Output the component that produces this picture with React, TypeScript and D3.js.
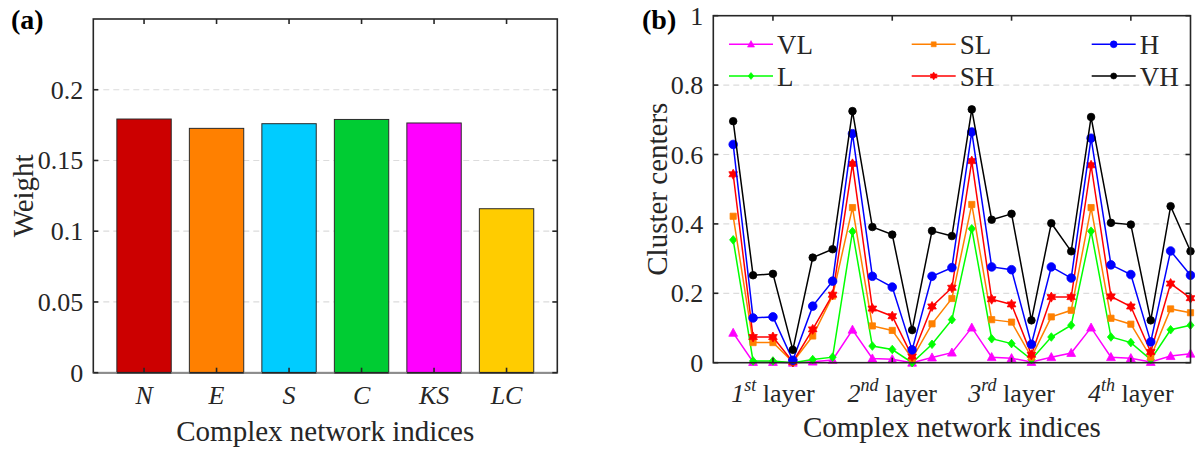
import React from 'react';
import * as d3 from 'd3';

// ---------- Data ----------
const barCategories = ['N', 'E', 'S', 'C', 'KS', 'LC'];
const barWeights = [0.1793, 0.1727, 0.176, 0.179, 0.1765, 0.1159];
const weightTicks = [0, 0.05, 0.1, 0.15, 0.2];
const weightTickLabels = ['0', '0.05', '0.1', '0.15', '0.2'];

const layerTickPositions = [3, 9, 15, 21];
const layerNumbers = ['1', '2', '3', '4'];
const layerSuffixes = ['st', 'nd', 'rd', 'th'];
const clusterTicks = [0, 0.2, 0.4, 0.6, 0.8, 1];
const clusterTickLabels = ['0', '0.2', '0.4', '0.6', '0.8', '1'];

const seriesNames = ['VL', 'L', 'SL', 'SH', 'H', 'VH'];
const VL = [0.086, 0.002, 0.002, 0.0, 0.003, 0.008, 0.095, 0.012, 0.010, 0.0, 0.015, 0.029, 0.101, 0.016, 0.013, 0.002, 0.016, 0.028, 0.101, 0.016, 0.013, 0.002, 0.019, 0.026];
const L = [0.354, 0.005, 0.005, 0.0, 0.009, 0.016, 0.378, 0.048, 0.038, 0.0, 0.053, 0.124, 0.386, 0.069, 0.055, 0.009, 0.074, 0.108, 0.379, 0.074, 0.058, 0.009, 0.095, 0.108];
const SL = [0.422, 0.058, 0.058, 0.002, 0.077, 0.192, 0.447, 0.106, 0.093, 0.012, 0.112, 0.185, 0.456, 0.124, 0.117, 0.016, 0.132, 0.151, 0.447, 0.128, 0.111, 0.016, 0.155, 0.144];
const SH = [0.543, 0.074, 0.074, 0.002, 0.096, 0.196, 0.573, 0.156, 0.134, 0.018, 0.162, 0.216, 0.581, 0.183, 0.168, 0.023, 0.189, 0.189, 0.569, 0.191, 0.162, 0.031, 0.228, 0.186];
const Hs = [0.629, 0.129, 0.132, 0.007, 0.163, 0.235, 0.660, 0.249, 0.218, 0.037, 0.249, 0.274, 0.665, 0.276, 0.268, 0.053, 0.276, 0.244, 0.647, 0.282, 0.254, 0.060, 0.322, 0.252];
const VH = [0.696, 0.252, 0.256, 0.037, 0.303, 0.327, 0.725, 0.391, 0.369, 0.094, 0.380, 0.365, 0.730, 0.412, 0.429, 0.122, 0.402, 0.321, 0.708, 0.403, 0.398, 0.122, 0.451, 0.321];
const seriesValues = [VL, L, SL, SH, Hs, VH];

// ---------- Styles ----------
const barColors = ['#CC0000', '#FF8000', '#00CCFF', '#00CC33', '#FF00FF', '#FFCC00'];
const seriesColors = ['#FF00FF', '#00FF00', '#FF8000', '#FF0000', '#0000FF', '#000000'];
const seriesMarkers = ['triangle', 'diamond', 'square', 'hexagram', 'circle', 'dot'];

const FONT = '"Liberation Serif", "Times New Roman", serif';
const AX = '#262626';
const GRID = '#dcdcdc';
const TICK_FS = 26;
const LABEL_FS = 29;

function markerPath(kind: string, s: number): string {
  if (kind === 'triangle') {
    const h = 4.6 * s;
    const w = 4.4 * s;
    return `M0,${-h}L${w},${h * 0.75}L${-w},${h * 0.75}Z`;
  }
  if (kind === 'diamond') {
    const w = 3.6 * s, h = 4.3 * s;
    return `M0,${-h}L${w},0L0,${h}L${-w},0Z`;
  }
  if (kind === 'square') {
    const a = 3.1 * s;
    return `M${-a},${-a}H${a}V${a}H${-a}Z`;
  }
  if (kind === 'hexagram') {
    const R = 5 * s, r = R / Math.sqrt(3);
    const pts: string[] = [];
    for (let k = 0; k < 12; k++) {
      const ang = (-90 + k * 30) * Math.PI / 180;
      const rad = k % 2 === 0 ? R : r;
      pts.push(`${(rad * Math.cos(ang)).toFixed(2)},${(rad * Math.sin(ang)).toFixed(2)}`);
    }
    return 'M' + pts.join('L') + 'Z';
  }
  const rr = (kind === 'circle' ? 4.3 : 3.8) * s;
  return `M${rr},0A${rr},${rr} 0 1,1 ${-rr},0A${rr},${rr} 0 1,1 ${rr},0Z`;
}

function PanelA() {
  const l = 93.3, r = 557.3, t = 19, b = 372.7;
  const x = d3.scaleLinear().domain([0.3, 6.7]).range([l, r]);
  const y = d3.scaleLinear().domain([0, 0.25]).range([b, t]);
  const bw = x(0.75) - x(0);
  return (
    <g>
      {weightTicks.map((v, i) => i > 0 && (
        <line key={'g' + i} x1={l} x2={r} y1={y(v)} y2={y(v)} stroke={GRID} strokeWidth={1.2} strokeDasharray="6 4" />
      ))}
      {barWeights.map((v, i) => (
        <rect key={i} x={x(i + 1) - bw / 2} y={y(v)} width={bw} height={y(0) - y(v)}
          fill={barColors[i]} stroke="#2a2a2a" strokeWidth={1} />
      ))}
      <rect x={l} y={t} width={r - l} height={b - t} fill="none" stroke={AX} strokeWidth={1.6} />
      <line x1={l} x2={r} y1={y(0)} y2={y(0)} stroke="#8c8c8c" strokeWidth={1.2} />
      {barWeights.map((v, i) => (
        <line key={'bb' + i} x1={x(i + 1) - bw / 2} x2={x(i + 1) + bw / 2} y1={y(0)} y2={y(0)} stroke={AX} strokeWidth={1.4} />
      ))}
      {weightTicks.map((v, i) => (
        <g key={'t' + i}>
          <line x1={l} x2={l + 5} y1={y(v)} y2={y(v)} stroke={AX} strokeWidth={1.6} />
          <line x1={r} x2={r - 5} y1={y(v)} y2={y(v)} stroke={AX} strokeWidth={1.6} />
          <text x={l - 10} y={y(v) + 9} textAnchor="end" fontSize={TICK_FS} fontFamily={FONT} fill={AX}>{weightTickLabels[i]}</text>
        </g>
      ))}
      {barCategories.map((c, i) => (
        <g key={'c' + i}>
          <line x1={x(i + 1)} x2={x(i + 1)} y1={b} y2={b - 5} stroke={AX} strokeWidth={1.6} />
          <line x1={x(i + 1)} x2={x(i + 1)} y1={t} y2={t + 5} stroke={AX} strokeWidth={1.6} />
          <text x={x(i + 1)} y={403.5} textAnchor="middle" fontSize={TICK_FS} fontStyle="italic" fontFamily={FONT} fill={AX}>{c}</text>
        </g>
      ))}
      <text x={(l + r) / 2} y={441} textAnchor="middle" fontSize={LABEL_FS} fontFamily={FONT} fill={AX}>Complex network indices</text>
      <text transform={`translate(33,${(t + b) / 2}) rotate(-90)`} textAnchor="middle" fontSize={LABEL_FS} fontFamily={FONT} fill={AX}>Weight</text>
      <text x={11} y={29} fontSize={28} fontWeight="bold" fontFamily={FONT} fill="#000">(a)</text>
    </g>
  );
}

function PanelB() {
  const l = 713.3, r = 1190.5, t = 15.7, b = 362.7;
  const x = d3.scaleLinear().domain([0, 24]).range([l, r]);
  const y = d3.scaleLinear().domain([0, 1]).range([b, t]);
  const line = d3.line<number>().x((_, i) => x(i + 1)).y(v => y(v));
  const legendCols = [729, 911.7, 1091.7];
  const legendRows = [44.3, 76];
  return (
    <g>
      {clusterTicks.map((v, i) => i > 0 && i < clusterTicks.length - 1 && (
        <line key={'g' + i} x1={l} x2={r} y1={y(v)} y2={y(v)} stroke={GRID} strokeWidth={1.2} strokeDasharray="6 4" />
      ))}
      {seriesValues.map((vals, si) => (
        <g key={'s' + si}>
          <path d={line(vals) || ''} fill="none" stroke={seriesColors[si]} strokeWidth={1.5} />
          {vals.map((v, i) => (
            <path key={i} transform={`translate(${x(i + 1)},${y(v)})`} d={markerPath(seriesMarkers[si], 1)}
              fill={seriesColors[si]} stroke={seriesColors[si]} strokeWidth={0.8} />
          ))}
        </g>
      ))}
      <rect x={l} y={t} width={r - l} height={b - t} fill="none" stroke={AX} strokeWidth={1.6} />
      {clusterTicks.map((v, i) => (
        <g key={'t' + i}>
          <line x1={l} x2={l + 5} y1={y(v)} y2={y(v)} stroke={AX} strokeWidth={1.6} />
          <line x1={r} x2={r - 5} y1={y(v)} y2={y(v)} stroke={AX} strokeWidth={1.6} />
          <text x={l - 10} y={y(v) + 9} textAnchor="end" fontSize={TICK_FS} fontFamily={FONT} fill={AX}>{clusterTickLabels[i]}</text>
        </g>
      ))}
      {layerTickPositions.map((p, i) => (
        <g key={'c' + i}>
          <line x1={x(p)} x2={x(p)} y1={b} y2={b - 5} stroke={AX} strokeWidth={1.6} />
          <line x1={x(p)} x2={x(p)} y1={t} y2={t + 5} stroke={AX} strokeWidth={1.6} />
          <text x={x(p)} y={401.7} textAnchor="middle" fontSize={TICK_FS} fontFamily={FONT} fill={AX}>
            <tspan fontStyle="italic">{layerNumbers[i]}</tspan>
            <tspan fontStyle="italic" fontSize={18} dy={-11}>{layerSuffixes[i]}</tspan>
            <tspan dy={11}>{'\u00A0layer'}</tspan>
          </text>
        </g>
      ))}
      {seriesNames.map((n, si) => {
        const col = Math.floor(si / 2), row = si % 2;
        const lx = legendCols[col], ly = legendRows[row];
        return (
          <g key={'lg' + si}>
            <line x1={lx} x2={lx + 44} y1={ly} y2={ly} stroke={seriesColors[si]} strokeWidth={1.5} />
            <path transform={`translate(${lx + 22},${ly})`} d={markerPath(seriesMarkers[si], 0.8)}
              fill={seriesColors[si]} stroke={seriesColors[si]} strokeWidth={0.6} />
            <text x={lx + 48} y={ly + 9.5} fontSize={27} fontFamily={FONT} fill={AX}>{n}</text>
          </g>
        );
      })}
      <text x={(l + r) / 2} y={437} textAnchor="middle" fontSize={LABEL_FS} fontFamily={FONT} fill={AX}>Complex network indices</text>
      <text transform={`translate(667,${(t + b) / 2}) rotate(-90)`} textAnchor="middle" fontSize={LABEL_FS} fontFamily={FONT} fill={AX}>Cluster centers</text>
      <text x={642} y={29} fontSize={28} fontWeight="bold" fontFamily={FONT} fill="#000">(b)</text>
    </g>
  );
}

export default function App() {
  return (
    <svg width={1195} height={450} viewBox="0 0 1195 450"
      style={{ position: 'absolute', left: 0, top: 0, background: '#fff' }}>
      <rect x={0} y={0} width={1195} height={450} fill="#fff" />
      <PanelA />
      <PanelB />
    </svg>
  );
}
